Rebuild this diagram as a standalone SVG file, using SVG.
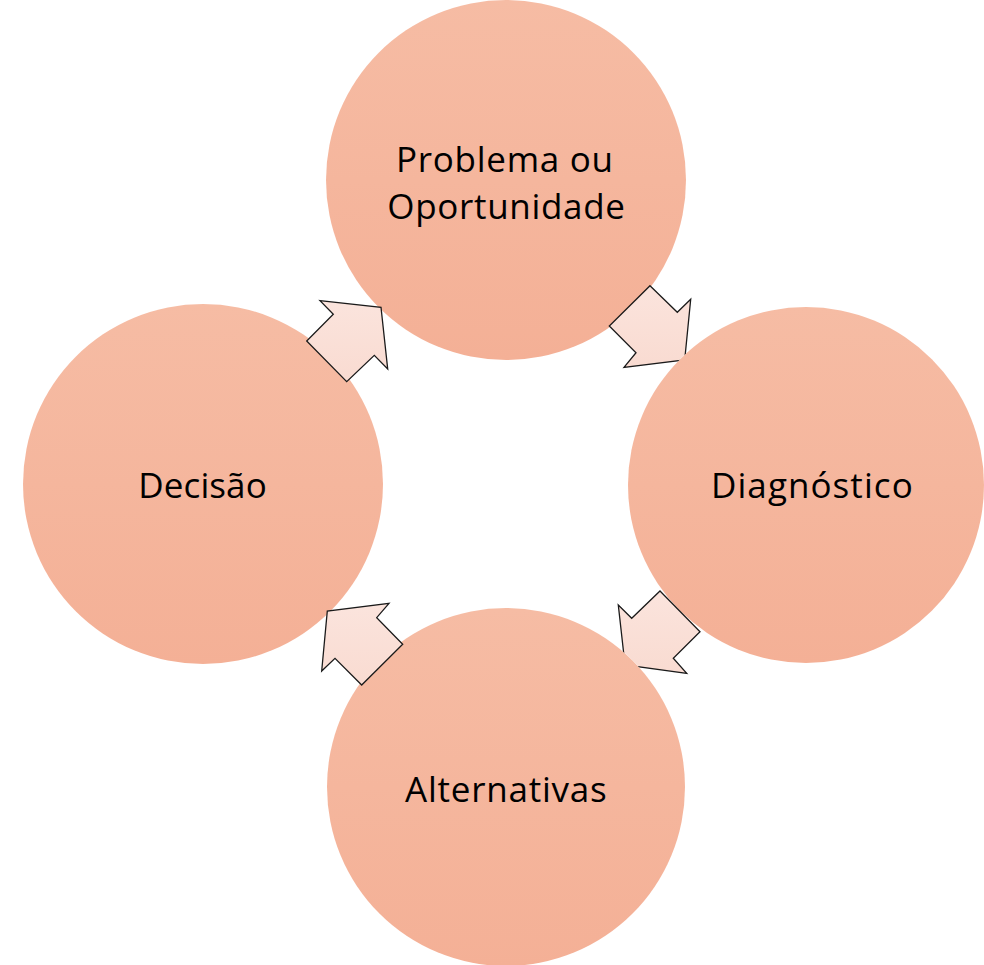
<svg xmlns="http://www.w3.org/2000/svg" width="984" height="965" viewBox="0 0 984 965">
  <defs>
    <linearGradient id="gCircle" x1="0" y1="0" x2="0" y2="1">
      <stop offset="0" stop-color="#F6BCA4"/>
      <stop offset="1" stop-color="#F4B096"/>
    </linearGradient>
    <linearGradient id="gArrow" x1="0" y1="0" x2="0" y2="1">
      <stop offset="0" stop-color="#FBE4DD"/>
      <stop offset="1" stop-color="#F9DBD1"/>
    </linearGradient>
    <mask id="mRight" maskUnits="userSpaceOnUse" x="0" y="0" width="984" height="965">
      <rect width="984" height="965" fill="#fff"/>
      <circle cx="806" cy="485" r="178" fill="#000"/>
    </mask>
    <mask id="mBottom" maskUnits="userSpaceOnUse" x="0" y="0" width="984" height="965">
      <rect width="984" height="965" fill="#fff"/>
      <circle cx="506" cy="787" r="179" fill="#000"/>
    </mask>
  </defs>
  <style>
    .node { fill: url(#gCircle); }
    .arrow { fill: url(#gArrow); stroke: #1a1a1a; stroke-width: 1.3; stroke-linejoin: miter; }
    .label { font-family: "Open Sans", "Noto Sans", sans-serif; font-size: 35px; fill: #000; }
  </style>
  <rect width="984" height="965" fill="#ffffff"/>
  <g id="node-problema">
    <circle class="node" cx="506" cy="180" r="180"/>
    <text class="label" x="396" y="172.3" textLength="217" lengthAdjust="spacing">Problema ou</text>
    <text class="label" x="387.3" y="219" textLength="237.7" lengthAdjust="spacing">Oportunidade</text>
  </g>
  <g id="node-diagnostico">
    <circle class="node" cx="806" cy="485" r="178"/>
    <text class="label" x="711" y="498.3" textLength="201.7" lengthAdjust="spacing">Diagnóstico</text>
  </g>
  <g id="node-alternativas">
    <circle class="node" cx="506" cy="787" r="179"/>
    <text class="label" x="405" y="801.7" textLength="201.7" lengthAdjust="spacing">Alternativas</text>
  </g>
  <g id="node-decisao">
    <circle class="node" cx="203" cy="484" r="180"/>
    <text class="label" x="138.3" y="497.7" textLength="128.4" lengthAdjust="spacing">Decisão</text>
  </g>
  <g id="connectors">
    <polygon class="arrow" mask="url(#mRight)" points="650,285.7 677.3,312.3 690.7,299.3 684.7,360 624,367.3 636,352.7 609.3,326"/>
    <polygon class="arrow" mask="url(#mBottom)" points="660,591 700,631.7 673.3,658.3 686.7,673.3 625,665 618.3,605 631.7,618.3"/>
    <polygon class="arrow" points="389,603.3 376.7,617.7 402.7,644.3 361.7,685 335,658.3 321.7,671 327.3,611"/>
    <polygon class="arrow" points="320,300.7 381,307.3 387.7,369 374.3,355.3 346.7,381.7 306.7,341 333.3,314.3"/>
  </g>
</svg>
